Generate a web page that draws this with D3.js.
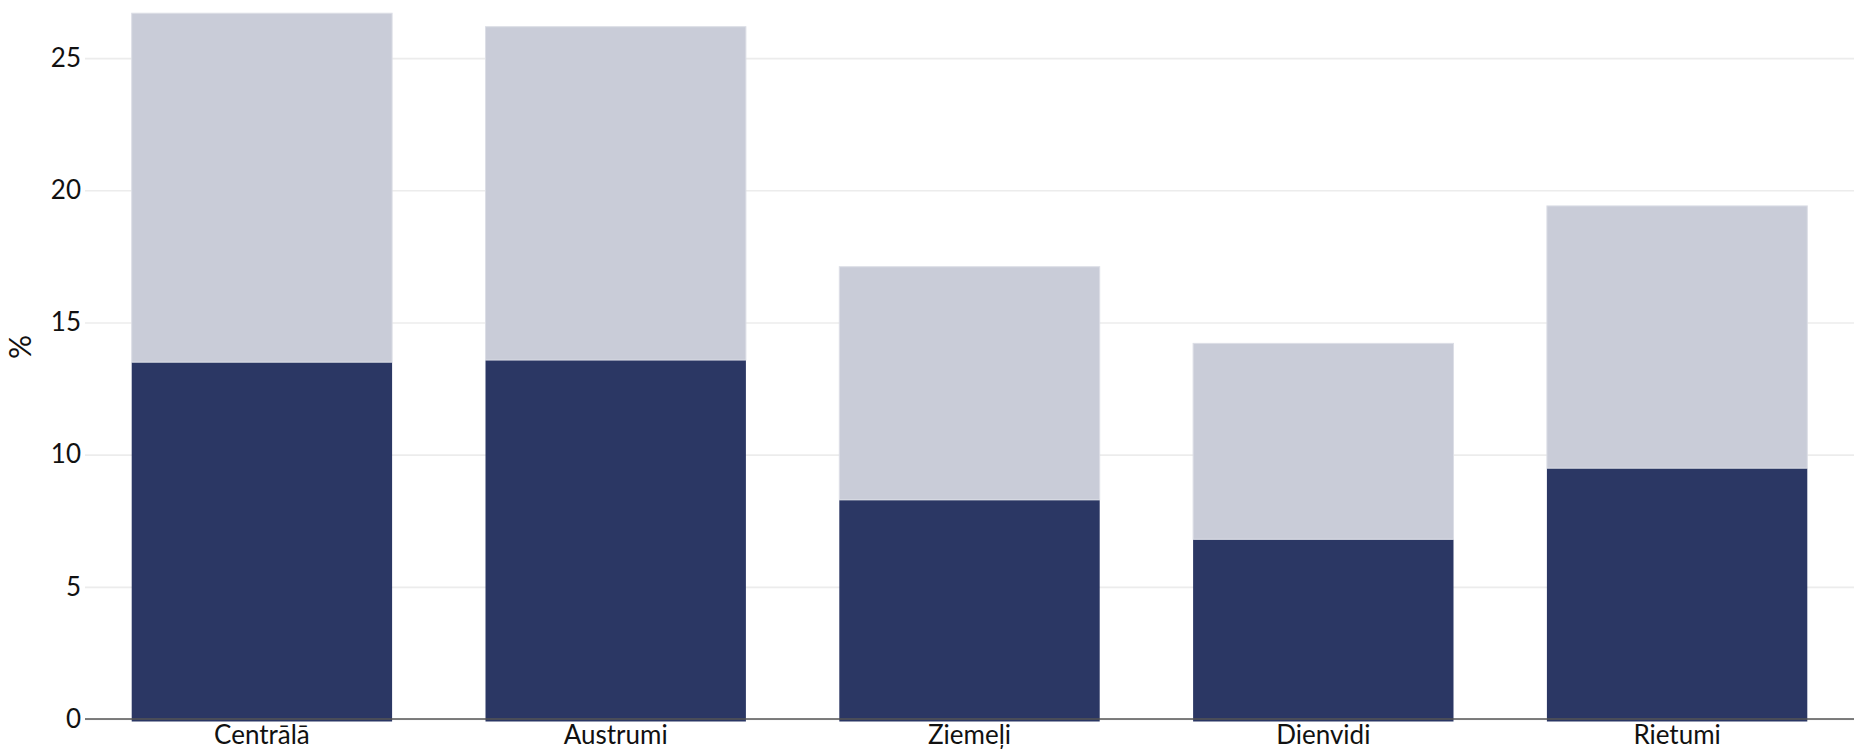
<!DOCTYPE html>
<html>
<head>
<meta charset="utf-8">
<script src="https://cdn.jsdelivr.net/npm/d3@7"></script>
<style>
  html, body { margin: 0; padding: 0; background: #fff; }
  svg { display: block; }
  text { font-family: Lato, "Noto Sans", sans-serif; fill: #111; }
</style>
</head>
<body>
<svg id="chart" width="1854" height="752"></svg>
<script>
const categories = ["Centrālā", "Austrumi", "Ziemeļi", "Dienvidi", "Rietumi"];
const lowerValues = [13.50, 13.58, 8.29, 6.80, 9.49];
const upperValues = [13.20, 12.61, 8.82, 7.41, 9.92];
const yTicks = [0, 5, 10, 15, 20, 25];
const yLabel = "%";
const seriesKeys = ["lower", "upper"];
const seriesColors = { lower: "#2b3764", upper: "#c9ccd8" };

const W = 1854, H = 752;
const margin = { top: 0, right: 0, bottom: 33, left: 85 };
const FS = 26;

const table = categories.map((c, i) => ({ cat: c, lower: lowerValues[i], upper: upperValues[i] }));
const stacked = d3.stack().keys(seriesKeys)(table);

const svg = d3.select("#chart");

const x = d3.scaleBand()
  .domain(categories)
  .range([margin.left, W - margin.right])
  .paddingInner(0.264)
  .paddingOuter(0.132);

const y = d3.scaleLinear()
  .domain([0, 27.2])
  .range([H - margin.bottom, margin.top]);

// gridlines + y tick labels
const yAxis = d3.axisLeft(y)
  .tickValues(yTicks)
  .tickSize(-(W - margin.left - margin.right))
  .tickPadding(4)
  .tickFormat(d3.format("d"));

const gy = svg.append("g")
  .attr("transform", `translate(${margin.left},0)`)
  .call(yAxis);
gy.select(".domain").remove();
gy.selectAll(".tick line").attr("stroke", "#ececec").attr("stroke-width", 1.6);
gy.selectAll(".tick text")
  .attr("font-size", FS)
  .attr("fill", "#111")
  .style("font-family", "Lato, 'Noto Sans', sans-serif");

// bars
const layers = svg.append("g").selectAll("g")
  .data(stacked)
  .join("g")
  .attr("fill", d => seriesColors[d.key]);

layers.selectAll("rect")
  .data(d => d.map(v => ({ key: d.key, v })))
  .join("rect")
  .attr("x", d => x(d.v.data.cat))
  .attr("width", x.bandwidth())
  .attr("y", d => y(d.v[1]))
  .attr("height", d => y(d.v[0]) - y(d.v[1]) + (d.key === "lower" ? 2.5 : 0))
  .attr("stroke", d => d.key === "upper" ? "#dcdee6" : "none")
  .attr("stroke-width", 1);

// baseline
svg.append("line")
  .attr("x1", margin.left)
  .attr("x2", W - margin.right)
  .attr("y1", y(0))
  .attr("y2", y(0))
  .attr("stroke", "#555")
  .attr("stroke-width", 1.6);

// x axis labels
const xAxis = d3.axisBottom(x).tickSize(0).tickPadding(7);
const gx = svg.append("g")
  .attr("transform", `translate(0,${y(0)})`)
  .call(xAxis);
gx.select(".domain").remove();
gx.selectAll(".tick text")
  .attr("font-size", FS)
  .attr("fill", "#111")
  .style("font-family", "Lato, 'Noto Sans', sans-serif");

// y label
svg.append("text")
  .attr("transform", `translate(31,347) rotate(-90)`)
  .attr("text-anchor", "middle")
  .attr("font-size", 30)
  .text(yLabel);
</script>
</body>
</html>
